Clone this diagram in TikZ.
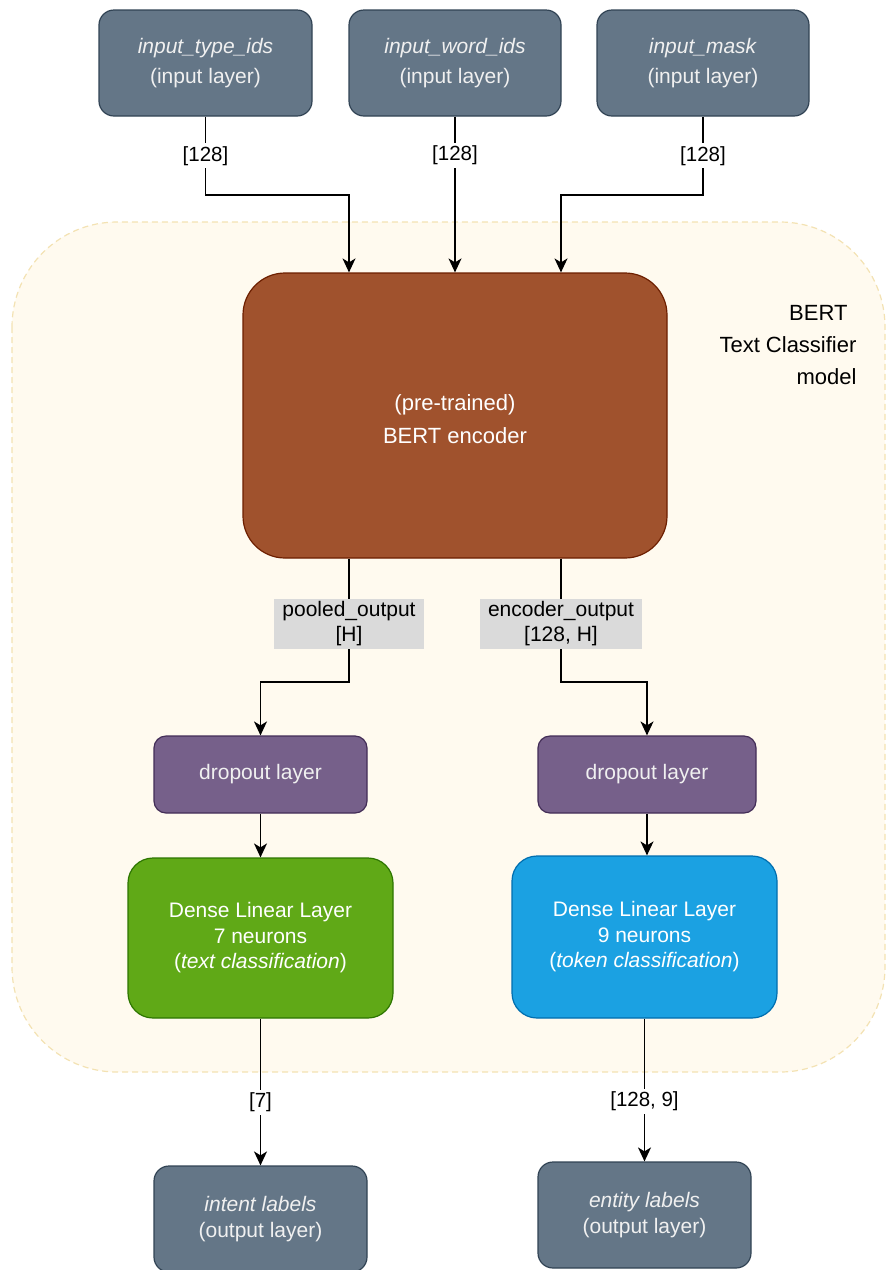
\documentclass[tikz,border=0pt]{standalone}
\usepackage{fontspec}
\setmainfont{Liberation Sans}
\usetikzlibrary{arrows.meta}

\definecolor{ioFill}{HTML}{647687}
\definecolor{ioLine}{HTML}{314354}
\definecolor{encFill}{HTML}{A0522D}
\definecolor{encLine}{HTML}{6D1F00}
\definecolor{dropFill}{HTML}{76608A}
\definecolor{dropLine}{HTML}{432D57}
\definecolor{greenFill}{HTML}{60A917}
\definecolor{greenLine}{HTML}{2D7600}
\definecolor{blueFill}{HTML}{1BA1E2}
\definecolor{blueLine}{HTML}{006EAF}
\definecolor{tagFill}{HTML}{DADADA}
\definecolor{groupFill}{HTML}{FFFAEF}
\definecolor{groupLine}{HTML}{F3E2B3}
\definecolor{lightText}{HTML}{F0F0F0}

\tikzset{
  box/.style={rectangle, line width=1.2pt, align=center, inner sep=0pt},
  iobox/.style={box, fill=ioFill, draw=ioLine, rounded corners=15pt,
    text=lightText, font=\fontsize{21}{30}\selectfont,
    minimum width=213pt, minimum height=106pt},
  outbox/.style={iobox, font=\fontsize{21}{26}\selectfont},
  encbox/.style={box, fill=encFill, draw=encLine, rounded corners=42pt,
    minimum width=424pt, minimum height=285pt},
  enctext/.style={text=white, align=center, font=\fontsize{22}{33}\selectfont},
  dropbox/.style={box, fill=dropFill, draw=dropLine, rounded corners=12pt,
    text=lightText, font=\fontsize{21}{25}\selectfont,
    minimum height=77pt},
  densebox/.style={box, rounded corners=25pt, text=white,
    font=\fontsize{21}{25.5}\selectfont, minimum width=265pt},
  arr/.style={line width=1.5pt, -{Stealth[length=14pt, width=13pt, inset=4pt]}},
  dimlabel/.style={fill=white, inner sep=3pt, font=\fontsize{20.5}{24}\selectfont},
  taglabel/.style={fill=tagFill, inner xsep=8pt, inner ysep=3pt, align=center,
    font=\fontsize{21}{25}\selectfont},
}

\begin{document}
\begin{tikzpicture}[x=1pt, y=-1pt]
\useasboundingbox (0,0) rectangle (886,1270);
\clip (0,0) rectangle (886,1270);

% model container
\draw[fill=groupFill, draw=groupLine, line width=1.2pt, dash pattern=on 6pt off 4pt,
      rounded corners=105pt] (12,222) rectangle (885,1072);
\node[anchor=north east, align=right, font=\fontsize{22}{32}\selectfont]
  (title) at (860,302) {BERT\hspace*{9pt}\\Text Classifier\\model};

% inputs
\node[iobox] (in1) at (205.5,63) {\textit{input\_type\_ids}\\(input layer)};
\node[iobox, minimum width=212pt] (in2) at (455,63) {\textit{input\_word\_ids}\\(input layer)};
\node[iobox, minimum width=212pt] (in3) at (703,63) {\textit{input\_mask}\\(input layer)};

% encoder
\node[encbox, label={[enctext, yshift=-4pt]center:(pre-trained)\\BERT encoder}]
  (enc) at (455,415.5) {};

% dropout layers
\node[dropbox, minimum width=213pt] (drop1) at (260.5,774.5) {dropout layer};
\node[dropbox, minimum width=218pt] (drop2) at (647,774.5) {dropout layer};

% dense heads
\node[densebox, fill=greenFill, draw=greenLine, minimum height=160pt] (dense1) at (260.5,938)
  {Dense Linear Layer\\7 neurons\\(\textit{text classification})};
\node[densebox, fill=blueFill, draw=blueLine, minimum height=162pt] (dense2) at (644.5,937)
  {Dense Linear Layer\\9 neurons\\(\textit{token classification})};

% outputs
\node[outbox] (out1) at (260.5,1219) {\textit{intent labels}\\(output layer)};
\node[outbox] (out2) at (644.5,1215) {\textit{entity labels}\\(output layer)};

% inputs into the encoder
\draw[arr] (in1.south) -- node[dimlabel] {[128]} (in1.south |- 0,195)
  -| ([xshift=-106pt]enc.north);
\draw[arr] (in2.south) -- node[dimlabel, pos=0.25] {[128]} (enc.north);
\draw[arr] (in3.south) -- node[dimlabel] {[128]} (in3.south |- 0,195)
  -| ([xshift=106pt]enc.north);

% encoder outputs
\draw[arr] ([xshift=-106pt]enc.south) -- node[taglabel, pos=0.53] {pooled\_output\\{[H]}}
  ([xshift=-106pt]enc.south |- 0,682) -| (drop1.north);
\draw[arr] ([xshift=106pt]enc.south) -- node[taglabel, pos=0.53] {encoder\_output\\{[128, H]}}
  ([xshift=106pt]enc.south |- 0,682) -| (drop2.north);

% dropout into dense
\draw[arr] (drop1.south) -- (dense1.north);
\draw[arr] (drop2.south) -- (drop2.south |- dense2.north);

% dense into outputs
\draw[arr] (dense1.south) -- node[dimlabel, pos=0.57] {[7]} (out1.north);
\draw[arr] (dense2.south) -- node[dimlabel, pos=0.58] {[128, 9]} (out2.north);
\end{tikzpicture}
\end{document}
